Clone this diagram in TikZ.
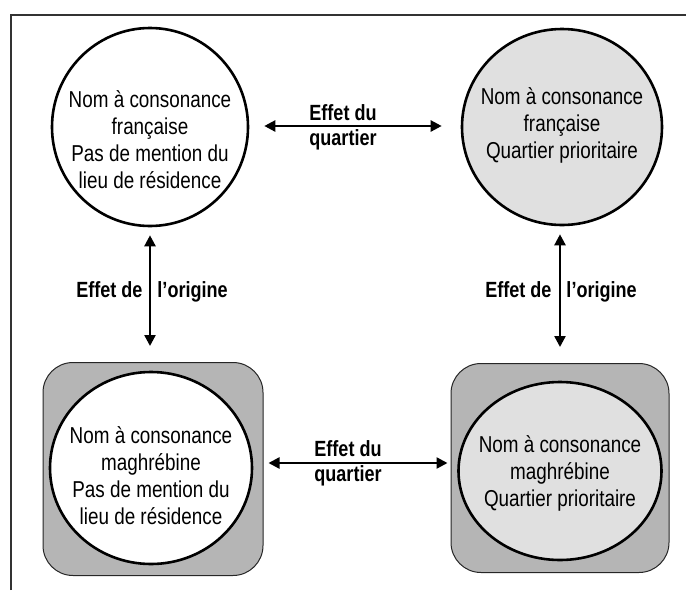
\documentclass[tikz,border=0pt]{standalone}
\usepackage{fontspec}
\setmainfont[FakeStretch=0.82]{Liberation Sans}
\usetikzlibrary{arrows.meta,shapes.geometric}
\definecolor{lightfill}{HTML}{E0E0E0}
\definecolor{panelfill}{HTML}{B5B5B5}
\begin{document}
\begin{tikzpicture}[x=1pt,y=-1pt,
  circ/.style={draw, ellipse, line width=2.6pt, inner sep=0pt},
  panel/.style={draw=black!85, line width=1pt, fill=panelfill, rounded corners=30pt, rectangle, inner sep=0pt},
  txt/.style={font=\fontsize{23}{27}\selectfont, align=center, inner sep=0pt},
  lbl/.style={font=\fontsize{22}{25}\selectfont\bfseries, align=center, inner sep=0pt},
  biarrow/.style={{Triangle[length=11pt,width=11pt]}-{Triangle[length=11pt,width=11pt]}, line width=2.4pt}
]
\useasboundingbox (0,0) rectangle (686,590);
% frame
\draw[line width=1.3pt, black!80] (11,590) -- (11,15) -- (686,15);
% top row
\node[circ, fill=white, minimum width=196pt, minimum height=198pt] (c1) at (150,127) {};
\node[circ, fill=lightfill, minimum width=200pt, minimum height=196pt] (c2) at (562,127) {};
\node[txt] (t1) at (150,140) {Nom à consonance\\française\\Pas de mention du\\lieu de résidence};
\node[txt] (t2) at (562,125) {Nom à consonance\\française\\Quartier prioritaire};
% bottom row
\node[panel, minimum width=220pt, minimum height=213pt] (r3) at (153,469) {};
\node[panel, minimum width=218pt, minimum height=209pt] (r4) at (560,468) {};
\node[circ, fill=white, minimum width=202pt, minimum height=192pt] (c3) at (151,468) {};
\node[circ, fill=lightfill, minimum width=203pt, minimum height=178pt] (c4) at (560,471) {};
\node[txt] (t3) at (151,476) {Nom à consonance\\maghrébine\\Pas de mention du\\lieu de résidence};
\node[txt] (t4) at (560,473) {Nom à consonance\\maghrébine\\Quartier prioritaire};
% connectors
\draw[biarrow, shorten <=15pt, shorten >=19pt] ([yshift=1pt]c1.east) -- ([yshift=1pt]c1.east -| c2.west);
\draw[biarrow, shorten <=5pt, shorten >=3pt] ([yshift=6pt]r3.east) -- ([yshift=6pt]r3.east -| r4.west);
\draw[biarrow, shorten <=8pt, shorten >=16pt] (c1.south) -- (c1.south |- r3.north);
\draw[biarrow, shorten <=8pt, shorten >=16pt] (r4.north |- c2.south) -- (r4.north);
% labels
\node[lbl] (l1) at (343,127) {Effet du\\quartier};
\node[lbl] (l2) at (348,463) {Effet du\\quartier};
\node[lbl] (l3) at (152,292) {Effet de\hspace{10pt} l’origine};
\node[lbl] (l4) at (561,292) {Effet de\hspace{10pt} l’origine};
\end{tikzpicture}
\end{document}
